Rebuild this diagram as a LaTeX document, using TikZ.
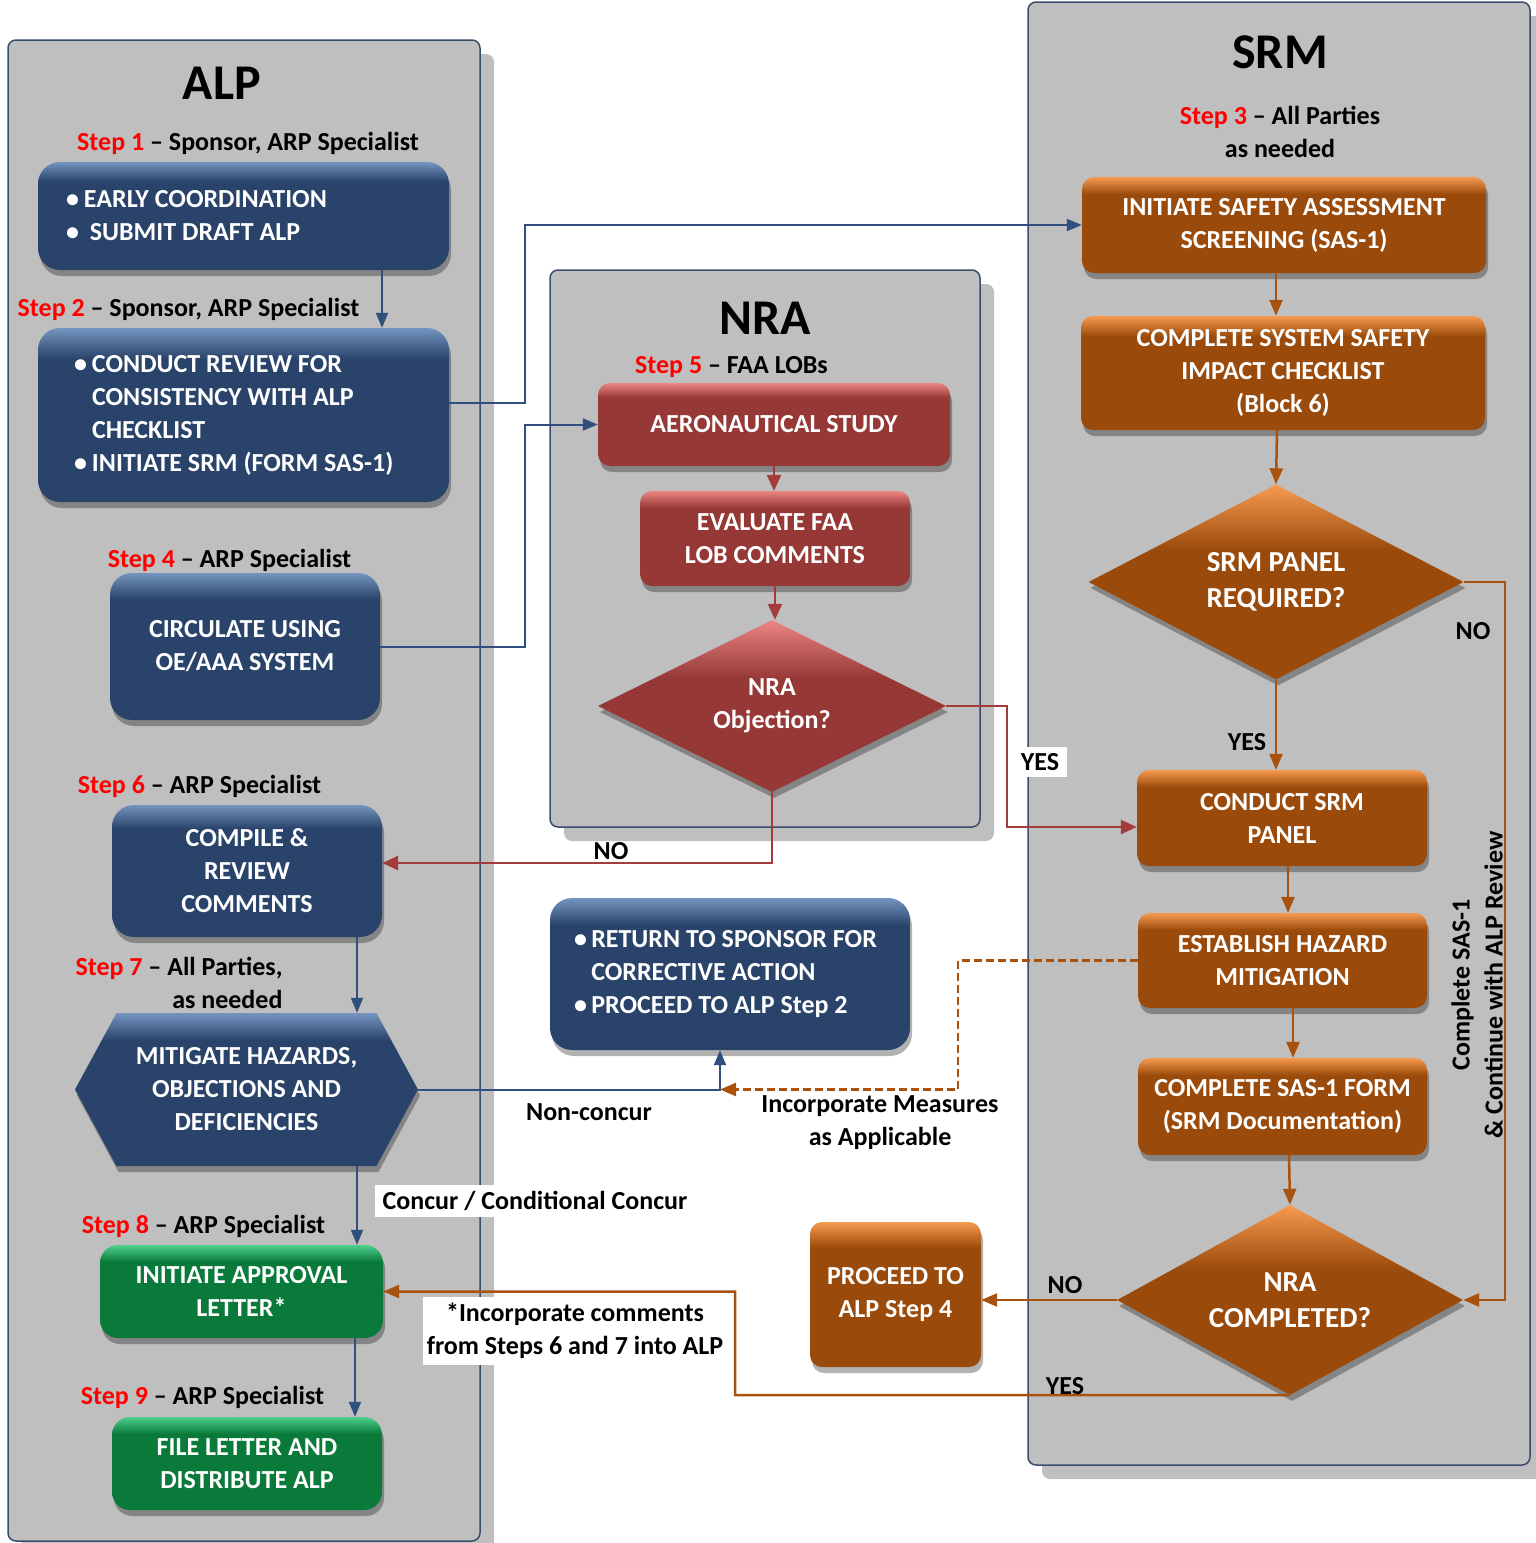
\documentclass[tikz,border=0pt]{standalone}
\usepackage{fontspec}
\setmainfont{Carlito}
\usetikzlibrary{arrows.meta,shapes.geometric,shapes.symbols,shadows}

\definecolor{panel}{HTML}{BFBFBF}
\definecolor{frame}{HTML}{3A4D6B}
\definecolor{bdark}{HTML}{29436A}
\definecolor{blight}{HTML}{7494BF}
\definecolor{rdark}{HTML}{953836}
\definecolor{rlight}{HTML}{EC8583}
\definecolor{odark}{HTML}{9A4A0A}
\definecolor{olight}{HTML}{F79A50}
\definecolor{gdark}{HTML}{0A7A3B}
\definecolor{glight}{HTML}{4ED08C}
\definecolor{bline}{HTML}{2F4F7F}
\definecolor{rline}{HTML}{A33C3A}
\definecolor{oline}{HTML}{A8520E}
\definecolor{stepred}{HTML}{FF0000}

\pgfdeclareverticalshading{bluebev}{100bp}{color(0bp)=(bdark); color(66bp)=(bdark); color(75bp)=(blight); color(100bp)=(blight)}
\pgfdeclareverticalshading{redbev}{100bp}{color(0bp)=(rdark); color(66bp)=(rdark); color(75bp)=(rlight); color(100bp)=(rlight)}
\pgfdeclareverticalshading{orangebev}{100bp}{color(0bp)=(odark); color(66bp)=(odark); color(75bp)=(olight); color(100bp)=(olight)}
\pgfdeclareverticalshading{greenbev}{100bp}{color(0bp)=(gdark); color(66bp)=(gdark); color(75bp)=(glight); color(100bp)=(glight)}
\pgfdeclareverticalshading{redask}{100bp}{color(0bp)=(rdark); color(58bp)=(rdark); color(75bp)=(rlight); color(100bp)=(rlight)}
\pgfdeclareverticalshading{orangeask}{100bp}{color(0bp)=(odark); color(58bp)=(odark); color(75bp)=(olight); color(100bp)=(olight)}

\newcommand{\bulit}{\makebox[18pt][l]{\textbullet}}

\tikzset{
	lane/.style={draw=frame, line width=1.5pt, fill=panel, rounded corners=8pt,
		drop shadow={shadow xshift=14pt, shadow yshift=-14pt, opacity=0.25, fill=black}},
	box/.style={text=white, align=center, inner sep=0pt,
		drop shadow={shadow xshift=2pt, shadow yshift=-6pt, opacity=0.3, fill=black}},
	bluebox/.style={box, shading=bluebev, rounded corners=22pt},
	redbox/.style={box, shading=redbev, rounded corners=12pt},
	orangebox/.style={box, shading=orangebev, rounded corners=12pt},
	greenbox/.style={box, shading=greenbev, rounded corners=18pt},
	ask/.style={box, diamond, aspect=2},
	title/.style={font=\bfseries\fontsize{50}{56}\selectfont},
	big/.style={font=\bfseries\fontsize{29}{36}\selectfont},
	tag/.style={fill=white, inner xsep=8pt, inner ysep=6pt},
	bl/.style={draw=bline, line width=2pt, -{Triangle[length=15pt,width=12pt]}},
	rl/.style={draw=rline, line width=2.5pt, -{Triangle[length=16pt,width=14pt]}},
	ol/.style={draw=oline, line width=2.5pt, -{Triangle[length=16pt,width=13pt]}}
}

\begin{document}
\begin{tikzpicture}[x=1pt, y=-1pt, every node/.style={font=\bfseries\fontsize{26}{33}\selectfont}]
	\useasboundingbox (0,0) rectangle (1535,1543);
	\node[lane, minimum width=472pt, minimum height=1501pt] (alp) at (244,790.5) {};
	\node[lane, minimum width=430pt, minimum height=557pt] (nra) at (765,548.5) {};
	\node[lane, minimum width=502pt, minimum height=1463pt] (srm) at (1279,733.5) {};
	\node[title] (talp) at (222,83) {ALP};
	\node[title] (tnra) at (765,318) {NRA};
	\node[title] (tsrm) at (1280,52) {SRM};
	\foreach \X/\Y/\N/\T in {248/143/1/{Sponsor, ARP Specialist}, 188.5/309/2/{Sponsor, ARP Specialist},
		229.5/560/4/ARP Specialist, 199.5/786/6/ARP Specialist, 203.5/1226/8/ARP Specialist,
		202.5/1397/9/ARP Specialist, 731.5/367/5/FAA LOBs}
	{\node (st\N) at (\X,\Y) {\textcolor{stepred}{Step \N} -- \T};}
	\node[align=right] (st7) at (179,983) {\textcolor{stepred}{Step 7} -- All Parties,\\as needed};
	\node[align=center] (st3) at (1280,132) {\textcolor{stepred}{Step 3} -- All Parties\\as needed};

	\node[bluebox, text width=355pt, align=flush left, minimum width=411pt, minimum height=108pt] (b1) at (243.5,216)
		{\bulit EARLY COORDINATION\\\bulit\ SUBMIT DRAFT ALP};
	\node[bluebox, text width=339pt, align=flush left, minimum width=411pt, minimum height=174pt] (b2) at (243.5,415)
		{\bulit CONDUCT REVIEW FOR\\\hspace*{18pt}CONSISTENCY WITH ALP\\\hspace*{18pt}CHECKLIST\\\bulit INITIATE SRM (FORM SAS-1)};
	\node[bluebox, minimum width=270pt, minimum height=147pt] (b4) at (245,646.5) {CIRCULATE USING\\OE/AAA SYSTEM};
	\node[bluebox, minimum width=270pt, minimum height=132pt] (b6) at (247,871) {COMPILE \&\\REVIEW\\COMMENTS};
	\node[box, shading=bluebev, signal, signal to=west and east, signal pointer angle=123,
		minimum width=343pt, minimum height=153pt] (b7) at (246.5,1089.5) {MITIGATE HAZARDS,\\OBJECTIONS AND\\DEFICIENCIES};
	\node[greenbox, minimum width=283pt, minimum height=93pt] (b8) at (241.5,1291.5) {INITIATE APPROVAL\\LETTER*};
	\node[greenbox, minimum width=270pt, minimum height=93pt] (b9) at (247,1463.5) {FILE LETTER AND\\DISTRIBUTE ALP};
	\node[bluebox, text width=312pt, align=flush left, minimum width=360pt, minimum height=152pt] (ret) at (730,974)
		{\textbullet\,RETURN TO SPONSOR FOR\\\phantom{\textbullet\,}CORRECTIVE ACTION\\\textbullet\,PROCEED TO ALP Step 2};

	\node[redbox, minimum width=352pt, minimum height=83pt] (n1) at (774,424.5) {AERONAUTICAL STUDY};
	\node[redbox, minimum width=270pt, minimum height=95pt] (n2) at (775,538.5) {EVALUATE FAA\\LOB COMMENTS};
	\node[ask, shading=redask, minimum width=348pt, minimum height=172pt] (n3) at (772,706) {NRA\\Objection?};

	\node[orangebox, minimum width=404pt, minimum height=96pt] (s1) at (1284,225) {INITIATE SAFETY ASSESSMENT\\SCREENING (SAS-1)};
	\node[orangebox, minimum width=404pt, minimum height=114pt] (s2) at (1283,373) {COMPLETE SYSTEM SAFETY\\IMPACT CHECKLIST\\(Block 6)};
	\node[ask, big, shading=orangeask, minimum width=375pt, minimum height=195pt] (s3) at (1276,582) {SRM PANEL\\REQUIRED?};
	\node[orangebox, minimum width=290pt, minimum height=96pt] (s4) at (1282,818) {CONDUCT SRM\\PANEL};
	\node[orangebox, minimum width=289pt, minimum height=95pt] (s5) at (1282.5,960.5) {ESTABLISH HAZARD\\MITIGATION};
	\node[orangebox, minimum width=289pt, minimum height=97pt] (s6) at (1282.5,1106.5) {COMPLETE SAS-1 FORM\\(SRM Documentation)};
	\node[ask, big, shading=orangeask, minimum width=346pt, minimum height=190pt] (s7) at (1290,1300) {NRA\\COMPLETED?};
	\node[orangebox, minimum width=171pt, minimum height=145pt] (s8) at (895.5,1294.5) {PROCEED TO\\ALP Step 4};

	\coordinate (jA) at (525,225);
	\coordinate (jB) at (525,424.5);
	\coordinate (jC) at (1007,706);
	\coordinate (jD) at (958,1089.5);
	\coordinate (jG) at (1505,582);
	\coordinate (jH) at (735,1395);

	\draw[bl] ([xshift=138.5pt]b1.south) -- ([xshift=138.5pt]b2.north);
	\draw[bl] ([yshift=12pt]b2.east) -| (jA) -- (s1.west);
	\draw[bl] (b4.east) -| (jB) -- (n1.west);
	\draw[bl] ([xshift=110pt]b6.south) -- ([xshift=110pt]b6.south |- b7.north);
	\draw[bl] (b7.east) -| ([xshift=-10pt]ret.south);
	\draw[bl] ([xshift=110.5pt]b7.south) -- ([xshift=115.5pt]b8.north);
	\draw[bl] ([xshift=113.5pt]b8.south) -- ([xshift=108pt]b9.north);

	\draw[rl] (n1.south) -- (n1.south |- n2.north);
	\draw[rl] (n2.south) -- (n2.south |- n3.north);
	\draw[rl] (n3.south) |- ([yshift=8pt]b6.east);
	\draw[rl] (n3.east) -- (jC) |- ([yshift=-9pt]s4.west);

	\draw[ol] ([xshift=-8pt]s1.south) -- ([xshift=-7pt]s2.north);
	\draw[ol] ([xshift=-6pt]s2.south) -- (s3.north);
	\draw[ol] (s3.south) -- (s3.south |- s4.north);
	\draw[ol] (s3.east) -- (jG) |- (s7.east);
	\draw[ol] ([xshift=6pt]s4.south) -- ([xshift=5.5pt]s5.north);
	\draw[ol] ([xshift=10.5pt]s5.south) -- ([xshift=10.5pt]s6.north);
	\draw[ol] ([xshift=6.5pt]s6.south) -- (s7.north);
	\draw[ol] (s7.west) -- (s7.west -| s8.east);
	\draw[ol] (s7.south) -- (jH) |- (b8.east);
	\draw[ol, dash pattern=on 8pt off 4pt] (s5.west) -| (jD) -- ([xshift=-10pt]ret.south |- jD);

	\node (l1) at (611,851) {NO};
	\node[tag] (l2) at (1040,762) {YES};
	\node (l3) at (1247,742) {YES};
	\node (l4) at (1473,631) {NO};
	\node (l5) at (1065,1285) {NO};
	\node (l6) at (1065,1386) {YES};
	\node (l7) at (589,1112) {Non-concur};
	\node[align=center] (l8) at (880,1123) {Incorporate Measures\\as Applicable};
	\node[tag] (l9) at (535,1201) {Concur / Conditional Concur};
	\node[tag, align=center, inner xsep=4pt] (l10) at (575,1331) {*Incorporate comments\\from Steps 6 and 7 into ALP};
	\node[rotate=90, align=center] (l11) at (1477,985) {Complete SAS-1\\\& Continue with ALP Review};
\end{tikzpicture}
\end{document}
